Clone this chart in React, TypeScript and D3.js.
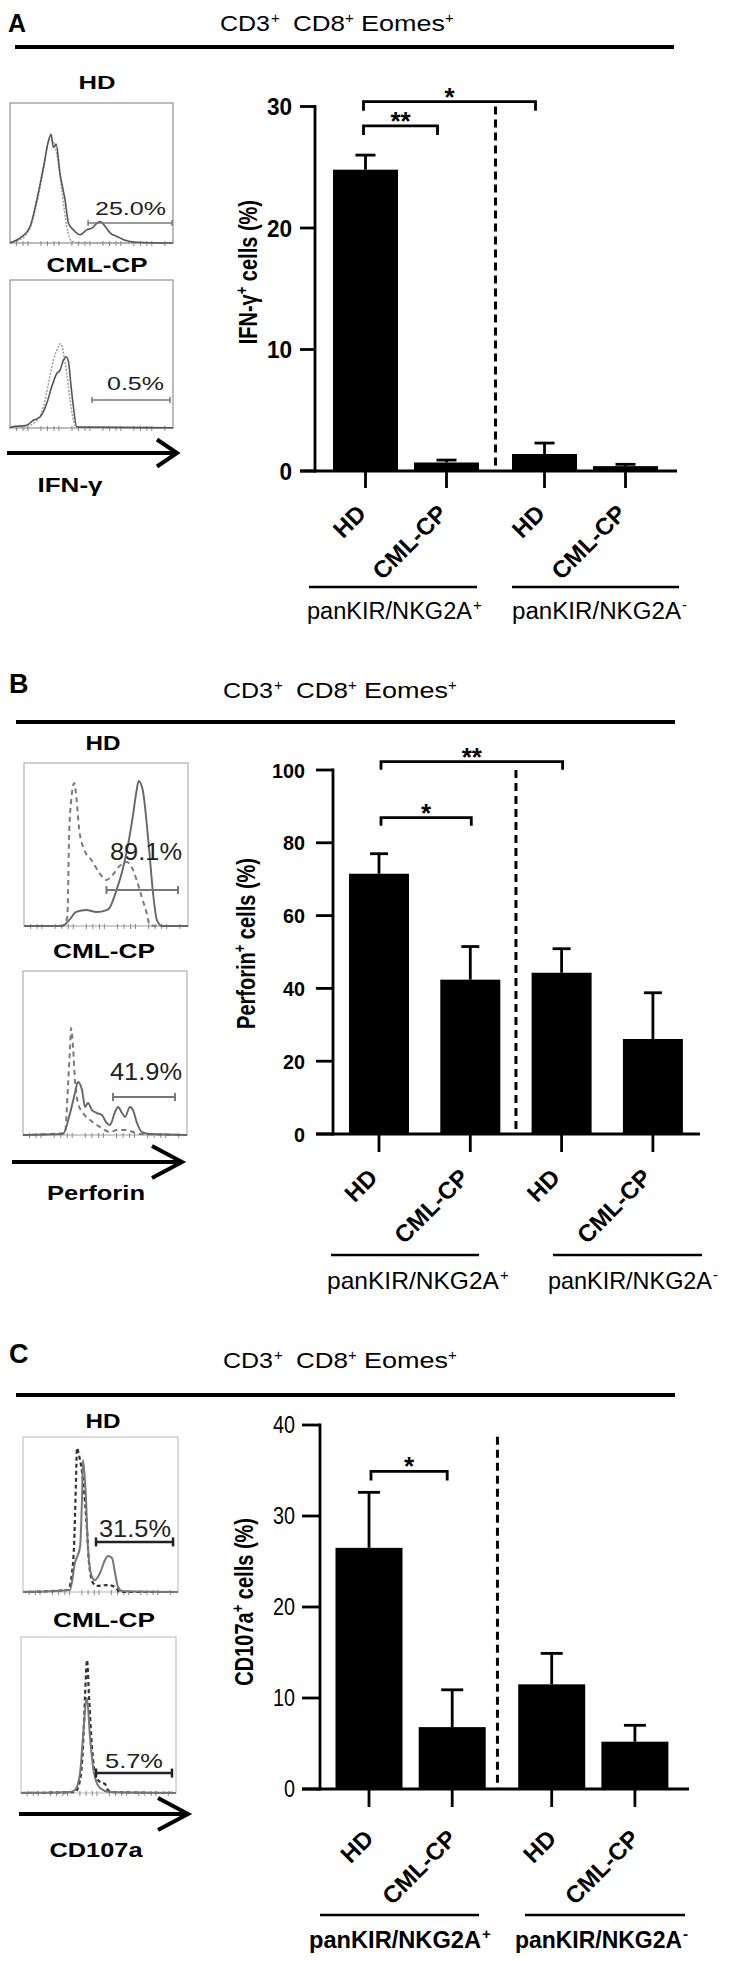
import React from "react";
import * as d3 from "d3";

const FONT = "'Liberation Sans', Arial, Helvetica, sans-serif";

// ================= DATA =================
const categories = ["HD", "CML-CP", "HD", "CML-CP"];
const groupNames = ["panKIR/NKG2A", "panKIR/NKG2A"];
const groupSigns = ["+", "-"];
const panelLetters = ["A", "B", "C"];
const titleWords = ["CD3", "CD8", "Eomes"];
const markers = ["IFN-γ", "Perforin", "CD107a"];
const sampleNames = ["HD", "CML-CP"];

const ifnMean = [24.8, 0.7, 1.4, 0.4];
const ifnSem = [1.2, 0.2, 0.9, 0.15];
const ifnTicks = [0, 10, 20, 30];
const ifnSig = [
  { a: 0, b: 1, y: 28.4, label: "**" },
  { a: 0, b: 2, y: 30.4, label: "*" },
];
const ifnPct = ["25.0%", "0.5%"];

const perfMean = [71.5, 42.4, 44.3, 26.1];
const perfSem = [5.5, 9.1, 6.6, 12.7];
const perfTicks = [0, 20, 40, 60, 80, 100];
const perfSig = [
  { a: 0, b: 1, y: 86.9, label: "*" },
  { a: 0, b: 2, y: 102.3, label: "**" },
];
const perfPct = ["89.1%", "41.9%"];

const cdMean = [26.5, 6.8, 11.5, 5.2];
const cdSem = [6.1, 4.1, 3.4, 1.8];
const cdTicks = [0, 10, 20, 30, 40];
const cdSig = [{ a: 0, b: 1, y: 34.9, label: "*" }];
const cdPct = ["31.5%", "5.7%"];

// Flow histograms: [fraction of box width, fraction of box height]
type P = [number, number];
const ifnHdSolid: P[] = [[0, 0], [0.01, 0.005], [0.061, 0.035], [0.123, 0.118], [0.164, 0.306], [0.205, 0.541], [0.236, 0.729], [0.252, 0.776], [0.266, 0.682], [0.283, 0.706], [0.307, 0.494], [0.338, 0.306], [0.359, 0.141], [0.389, 0.094], [0.43, 0.059], [0.471, 0.094], [0.502, 0.106], [0.533, 0.141], [0.553, 0.153], [0.584, 0.118], [0.615, 0.071], [0.656, 0.047], [0.697, 0.024], [0.758, 0.007], [0.861, 0.002], [1, 0]];
const ifnHdCtrl: P[] = [[0, 0], [0.01, 0.005], [0.061, 0.024], [0.123, 0.106], [0.164, 0.282], [0.205, 0.518], [0.242, 0.741], [0.262, 0.729], [0.287, 0.635], [0.318, 0.376], [0.348, 0.118], [0.379, 0.012], [0.43, 0], [1, 0]];
const ifnCmlSolid: P[] = [[0, 0], [0.01, 0.007], [0.102, 0.018], [0.143, 0.052], [0.184, 0.074], [0.225, 0.165], [0.256, 0.278], [0.287, 0.368], [0.307, 0.391], [0.328, 0.458], [0.344, 0.481], [0.359, 0.447], [0.373, 0.3], [0.389, 0.142], [0.41, 0.007], [1, 0.002]];
const ifnCmlCtrl: P[] = [[0, 0], [0.01, 0.007], [0.102, 0.011], [0.164, 0.052], [0.205, 0.142], [0.236, 0.3], [0.266, 0.458], [0.297, 0.549], [0.311, 0.571], [0.328, 0.503], [0.348, 0.368], [0.369, 0.187], [0.389, 0.052], [0.41, 0.007], [1, 0.002]];

const perfHdSolid: P[] = [[0, 0], [0.215, 0], [0.245, 0.006], [0.276, 0.037], [0.319, 0.086], [0.38, 0.098], [0.442, 0.086], [0.503, 0.098], [0.521, 0.11], [0.564, 0.221], [0.601, 0.344], [0.632, 0.485], [0.663, 0.669], [0.687, 0.834], [0.699, 0.89], [0.724, 0.834], [0.748, 0.632], [0.767, 0.423], [0.785, 0.221], [0.81, 0.037], [0.84, 0], [1, 0]];
const perfHdCtrl: P[] = [[0, 0], [0.233, 0], [0.264, 0.055], [0.276, 0.589], [0.288, 0.773], [0.307, 0.877], [0.319, 0.791], [0.337, 0.589], [0.368, 0.466], [0.411, 0.405], [0.46, 0.325], [0.503, 0.282], [0.54, 0.313], [0.583, 0.368], [0.626, 0.393], [0.656, 0.362], [0.687, 0.282], [0.718, 0.178], [0.748, 0.08], [0.767, 0.006], [0.8, 0], [1, 0]];
const perfCmlSolid: P[] = [[0, 0], [0.244, 0.006], [0.287, 0.134], [0.317, 0.256], [0.335, 0.323], [0.36, 0.274], [0.378, 0.171], [0.396, 0.195], [0.421, 0.152], [0.451, 0.134], [0.482, 0.122], [0.506, 0.079], [0.53, 0.061], [0.561, 0.14], [0.579, 0.171], [0.604, 0.134], [0.622, 0.11], [0.652, 0.171], [0.671, 0.152], [0.695, 0.073], [0.726, 0.018], [0.774, 0.006], [1, 0]];
const perfCmlCtrl: P[] = [[0, 0], [0.256, 0.012], [0.274, 0.293], [0.287, 0.537], [0.293, 0.652], [0.305, 0.537], [0.317, 0.335], [0.335, 0.195], [0.366, 0.134], [0.409, 0.091], [0.47, 0.049], [0.53, 0.018], [0.573, 0.03], [0.634, 0.03], [0.671, 0.018], [0.713, 0.006], [1, 0]];

const cdHdSolid: P[] = [[0, 0], [0.303, 0.013], [0.335, 0.187], [0.368, 0.29], [0.381, 0.613], [0.387, 0.852], [0.406, 0.613], [0.419, 0.29], [0.445, 0.097], [0.465, 0.077], [0.497, 0.123], [0.529, 0.206], [0.548, 0.232], [0.574, 0.219], [0.594, 0.123], [0.613, 0.032], [0.639, 0.006], [1, 0]];
const cdHdCtrl: P[] = [[0, 0], [0.29, 0.013], [0.316, 0.123], [0.329, 0.29], [0.342, 0.723], [0.348, 0.929], [0.361, 0.884], [0.387, 0.723], [0.413, 0.4], [0.426, 0.187], [0.452, 0.058], [0.477, 0.039], [0.542, 0.045], [0.594, 0.032], [0.626, 0], [1, 0]];
const cdCmlSolid: P[] = [[0, 0], [0.316, 0.006], [0.348, 0.019], [0.381, 0.128], [0.4, 0.359], [0.426, 0.609], [0.445, 0.359], [0.471, 0.128], [0.51, 0.032], [0.574, 0.006], [1, 0]];
const cdCmlCtrl: P[] = [[0, 0], [0.348, 0.006], [0.381, 0.083], [0.4, 0.295], [0.413, 0.615], [0.426, 0.853], [0.439, 0.615], [0.458, 0.295], [0.477, 0.128], [0.51, 0.071], [0.542, 0.058], [0.561, 0.019], [0.594, 0.006], [1, 0]];

const ifnGates = [{ x1: 0.479, x2: 0.994, y: 0.142 }, { x1: 0.503, x2: 0.982, y: 0.189 }];
const perfGates = [{ x1: 0.503, x2: 0.939, y: 0.221 }, { x1: 0.549, x2: 0.927, y: 0.232 }];
const cdGates = [{ x1: 0.471, x2: 0.968, y: 0.323 }, { x1: 0.484, x2: 0.974, y: 0.128 }];

const histTickFracs = [0.04, 0.08, 0.11, 0.19, 0.23, 0.27, 0.3, 0.38, 0.42, 0.46, 0.49, 0.57, 0.61, 0.65, 0.68, 0.76, 0.8, 0.84, 0.87, 0.95];

// ================= LAYOUT =================
const panels = [
  {
    letter: { x: 8, y: 32, size: 25 },
    title: { x: 220, y: 31 },
    rule: { x1: 15, x2: 674, y: 47 },
    boxes: [{ x: 10, y: 103, w: 163, h: 140 }, { x: 10, y: 280, w: 163, h: 148 }],
    sampleLbl: [{ cx: 97, y: 89, w: 37, size: 19 }, { cx: 97, y: 272, w: 101, size: 20 }],
    pctLbl: [{ x: 166, y: 215, w: 71, size: 18 }, { x: 164, y: 390, w: 57, size: 18 }],
    hs: { box: "#9a9a9a", solid: "#555", ctrl: "#9c9c9c", ctrlDash: "2,1.5", solidW: 1.6, ctrlW: 1.5, gate: "#777", gateW: 1.5, gateTick: 6 },
    arrow: { x1: 7, x2: 177, y: 453, hx: 20, hy: 13.5 },
    marker: { cx: 70, y: 492, w: 65, size: 20 },
    hist: [[ifnHdSolid, ifnHdCtrl], [ifnCmlSolid, ifnCmlCtrl]],
    gates: ifnGates, pct: ifnPct,
    mean: ifnMean, sem: ifnSem, ticks: ifnTicks, sig: ifnSig,
    chart: {
      axisX: 315, y0: 471, yTop: 106.5, max: 30, tickLen: 15, tickFont: 24, tickBold: true, tickScale: 0.94, tickGap: 8,
      c0: 365.5, unit: 81, gap: 0.21, barW: 65, xEnd: 677, xTickLen: 17, capW: 20, dashTop: 30, dashDx: 0,
      sigDx: [-2, -9], sigLeg: 9, lblDx: 2, lblDy: 44, lblSize: 24,
      groupLines: [[309, 477], [512, 679]], lineY: 587,
      groupLbl: [{ x: 307, w: 176 }, { x: 512, w: 180 }], groupY: 619, groupSize: 23, groupBold: false,
      yLabel: { x: 257, yEnd: 200, size: 20 },
    },
  },
  {
    letter: { x: 9, y: 693, size: 27 },
    title: { x: 223, y: 698 },
    rule: { x1: 16, x2: 675, y: 722 },
    boxes: [{ x: 24, y: 763, w: 164, h: 163 }, { x: 23, y: 971, w: 164, h: 164 }],
    sampleLbl: [{ cx: 103, y: 750, w: 35, size: 21 }, { cx: 104, y: 958, w: 102, size: 21 }],
    pctLbl: [{ x: 182, y: 860, w: 72, size: 24 }, { x: 182, y: 1080, w: 72, size: 24 }],
    hs: { box: "#b5b5b5", solid: "#666", ctrl: "#7a7a7a", ctrlDash: "5,4", solidW: 1.9, ctrlW: 2, gate: "#777", gateW: 2, gateTick: 8 },
    arrow: { x1: 12, x2: 182, y: 1162, hx: 30, hy: 16 },
    marker: { cx: 96, y: 1200, w: 98, size: 21 },
    hist: [[perfHdSolid, perfHdCtrl], [perfCmlSolid, perfCmlCtrl]],
    gates: perfGates, pct: perfPct,
    mean: perfMean, sem: perfSem, ticks: perfTicks, sig: perfSig,
    chart: {
      axisX: 333, y0: 1134, yTop: 770, max: 100, tickLen: 17, tickFont: 21, tickBold: true, tickScale: 0.94, tickGap: 11,
      c0: 379, unit: 91.3, gap: 0, barW: 60, xEnd: 700, xTickLen: 18, capW: 18, dashTop: 100, dashDx: 0,
      sigDx: [2, 1], sigLeg: 8, lblDx: 0, lblDy: 45, lblSize: 24,
      groupLines: [[331, 479], [553, 702]], lineY: 1255,
      groupLbl: [{ x: 327, w: 183 }, { x: 548, w: 175 }], groupY: 1289, groupSize: 24, groupBold: false,
      yLabel: { x: 255, yEnd: 858, size: 20 },
    },
  },
  {
    letter: { x: 9, y: 1363, size: 27 },
    title: { x: 223, y: 1368 },
    rule: { x1: 16, x2: 675, y: 1395 },
    boxes: [{ x: 23, y: 1437, w: 155, h: 155 }, { x: 21, y: 1637, w: 155, h: 156 }],
    sampleLbl: [{ cx: 103, y: 1428, w: 35, size: 21 }, { cx: 104, y: 1627, w: 102, size: 21 }],
    pctLbl: [{ x: 171, y: 1537, w: 72, size: 23 }, { x: 163, y: 1768, w: 58, size: 21 }],
    hs: { box: "#c8c8c8", solid: "#777", ctrl: "#333", ctrlDash: "4,3", solidW: 2, ctrlW: 2.2, gate: "#222", gateW: 2.5, gateTick: 9 },
    arrow: { x1: 19, x2: 188, y: 1814, hx: 30, hy: 16 },
    marker: { cx: 96, y: 1857, w: 93, size: 21 },
    hist: [[cdHdSolid, cdHdCtrl], [cdCmlSolid, cdCmlCtrl]],
    gates: cdGates, pct: cdPct,
    mean: cdMean, sem: cdSem, ticks: cdTicks, sig: cdSig,
    chart: {
      axisX: 320, y0: 1789, yTop: 1425, max: 40, tickLen: 18, tickFont: 23, tickBold: false, tickScale: 0.86, tickGap: 7,
      c0: 369, unit: 83.2, gap: 0.196, barW: 67, xEnd: 689, xTickLen: 18, capW: 22, dashTop: 38.7, dashDx: -4.5,
      sigDx: [2, -5], sigLeg: 9, lblDx: 6, lblDy: 51, lblSize: 24,
      groupLines: [[320, 479], [525, 685]], lineY: 1915,
      groupLbl: [{ x: 309, w: 183 }, { x: 515, w: 178 }], groupY: 1948, groupSize: 23, groupBold: true,
      yLabel: { x: 253, yEnd: 1518, size: 20 },
    },
  },
];

// ================= COMPONENTS =================
function Txt(props: any) {
  const { x, y, w, size, bold, anchor = "start", children, fill = "#000" } = props;
  return (
    <text x={x} y={y} fontSize={size} fontWeight={bold ? 700 : 400} textAnchor={anchor}
      textLength={w} lengthAdjust="spacingAndGlyphs" fill={fill} fontFamily={FONT}>
      {children}
    </text>
  );
}

function Title({ x, y }: { x: number; y: number }) {
  const offs = [0, 73, 141];
  const widths = [50, 52, 84];
  const supOffs = [51, 125, 225];
  return (
    <g>
      {titleWords.map((w, i) => (
        <Txt key={"w" + i} x={x + offs[i]} y={y} w={widths[i]} size={22}>{w}</Txt>
      ))}
      {supOffs.map((o, i) => (
        <text key={"s" + i} x={x + o} y={y - 8} fontSize={15} fontFamily={FONT}>+</text>
      ))}
    </g>
  );
}

function Histogram({ box, curves, gate, hs }: any) {
  const xs = d3.scaleLinear().domain([0, 1]).range([box.x, box.x + box.w]);
  const ys = d3.scaleLinear().domain([0, 1]).range([box.y + box.h, box.y]);
  const line = d3.line<P>().x((d) => xs(d[0])).y((d) => ys(d[1])).curve(d3.curveMonotoneX);
  const gy = ys(gate.y);
  return (
    <g>
      <rect x={box.x} y={box.y} width={box.w} height={box.h} fill="#fff" stroke={hs.box} strokeWidth={1.3} />
      {histTickFracs.map((f, i) => (
        <line key={i} x1={xs(f)} x2={xs(f)} y1={box.y + box.h - 2} y2={box.y + box.h + 3} stroke="#888" strokeWidth={1} />
      ))}
      <path d={line(curves[1]) || ""} fill="none" stroke={hs.ctrl} strokeWidth={hs.ctrlW} strokeDasharray={hs.ctrlDash} />
      <path d={line(curves[0]) || ""} fill="none" stroke={hs.solid} strokeWidth={hs.solidW} />
      <line x1={xs(gate.x1)} x2={xs(gate.x2)} y1={gy} y2={gy} stroke={hs.gate} strokeWidth={hs.gateW} />
      <line x1={xs(gate.x1)} x2={xs(gate.x1)} y1={gy - hs.gateTick / 2} y2={gy + hs.gateTick / 2} stroke={hs.gate} strokeWidth={hs.gateW} />
      <line x1={xs(gate.x2)} x2={xs(gate.x2)} y1={gy - hs.gateTick / 2} y2={gy + hs.gateTick / 2} stroke={hs.gate} strokeWidth={hs.gateW} />
    </g>
  );
}

function BarChart({ c, mean, sem, ticks, sig, marker }: any) {
  const y = d3.scaleLinear().domain([0, c.max]).range([c.y0, c.yTop]);
  const pos = d3.scaleLinear().domain([0, 1]).range([c.c0, c.c0 + c.unit]);
  const cx = (i: number) => pos(i + (i >= 2 ? c.gap : 0));
  const SW = 2.8;
  const dashX = (cx(1) + cx(2)) / 2 + c.dashDx;
  return (
    <g>
      {mean.map((m: number, i: number) => (
        <g key={"b" + i}>
          <rect x={cx(i) - c.barW / 2} y={y(m)} width={c.barW} height={c.y0 - y(m)} fill="#000" />
          <line x1={cx(i)} x2={cx(i)} y1={y(m)} y2={y(m + sem[i])} stroke="#000" strokeWidth={SW} />
          <line x1={cx(i) - c.capW / 2} x2={cx(i) + c.capW / 2} y1={y(m + sem[i])} y2={y(m + sem[i])} stroke="#000" strokeWidth={SW} />
        </g>
      ))}
      <line x1={dashX} x2={dashX} y1={y(c.dashTop)} y2={c.y0} stroke="#000" strokeWidth={3} strokeDasharray="8,5" />
      <line x1={c.axisX} x2={c.axisX} y1={c.y0 + SW / 2} y2={y(c.max) - SW / 2} stroke="#000" strokeWidth={SW} />
      {ticks.map((t: number) => (
        <g key={"t" + t}>
          <line x1={c.axisX - c.tickLen} x2={c.axisX} y1={y(t)} y2={y(t)} stroke="#000" strokeWidth={SW} />
          <text transform={`translate(${c.axisX - c.tickLen - c.tickGap},${y(t) + c.tickFont * 0.36}) scale(${c.tickScale},1)`}
            textAnchor="end" fontSize={c.tickFont} fontWeight={c.tickBold ? 700 : 400} fontFamily={FONT}>{t}</text>
        </g>
      ))}
      <line x1={c.axisX - c.tickLen} x2={c.xEnd} y1={c.y0} y2={c.y0} stroke="#000" strokeWidth={SW} />
      {categories.map((cat, i) => (
        <g key={"x" + i}>
          <line x1={cx(i)} x2={cx(i)} y1={c.y0} y2={c.y0 + c.xTickLen} stroke="#000" strokeWidth={SW} />
          <text transform={`translate(${cx(i) + c.lblDx},${c.y0 + c.lblDy}) rotate(-45)`} textAnchor="end"
            fontSize={c.lblSize} fontWeight={700} fontFamily={FONT}>{cat}</text>
        </g>
      ))}
      {sig.map((s: any, i: number) => {
        const x1 = cx(s.a) + c.sigDx[0];
        const x2 = cx(s.b) + c.sigDx[1];
        const yy = y(s.y);
        return (
          <g key={"s" + i}>
            <path d={`M${x1},${yy + c.sigLeg}V${yy}H${x2}V${yy + c.sigLeg}`} fill="none" stroke="#000" strokeWidth={SW} />
            <text x={(x1 + x2) / 2} y={yy + 4} textAnchor="middle" fontSize={26} fontWeight={700} fontFamily={FONT}>{s.label}</text>
          </g>
        );
      })}
      {c.groupLines.map((gl: number[], i: number) => (
        <g key={"g" + i}>
          <line x1={gl[0]} x2={gl[1]} y1={c.lineY} y2={c.lineY} stroke="#000" strokeWidth={2.6} />
          <Txt x={c.groupLbl[i].x} y={c.groupY} w={c.groupLbl[i].w - 11} size={c.groupSize} bold={c.groupBold}>{groupNames[i]}</Txt>
          <text x={c.groupLbl[i].x + c.groupLbl[i].w - 10} y={c.groupY - 9} fontSize={15} fontWeight={c.groupBold ? 700 : 400} fontFamily={FONT}>{groupSigns[i]}</text>
        </g>
      ))}
      <text transform={`translate(${c.yLabel.x},${c.yLabel.yEnd}) scale(1.3,1) rotate(-90)`} textAnchor="end"
        fontSize={c.yLabel.size} fontWeight={700} fontFamily={FONT}>
        <tspan>{marker}</tspan>
        <tspan dy={-8} fontSize={13}>+</tspan>
        <tspan dy={8}> cells (%)</tspan>
      </text>
    </g>
  );
}

function Panel({ p, idx }: any) {
  return (
    <g>
      <text x={p.letter.x} y={p.letter.y} fontSize={p.letter.size} fontWeight={700} fontFamily={FONT}>{panelLetters[idx]}</text>
      <Title x={p.title.x} y={p.title.y} />
      <line x1={p.rule.x1} x2={p.rule.x2} y1={p.rule.y} y2={p.rule.y} stroke="#000" strokeWidth={4.2} />
      {p.boxes.map((b: any, i: number) => (
        <g key={i}>
          <Txt x={p.sampleLbl[i].cx} y={p.sampleLbl[i].y} w={p.sampleLbl[i].w} size={p.sampleLbl[i].size} bold anchor="middle">{sampleNames[i]}</Txt>
          <Histogram box={b} curves={p.hist[i]} gate={p.gates[i]} hs={p.hs} />
          <Txt x={p.pctLbl[i].x} y={p.pctLbl[i].y} w={p.pctLbl[i].w} size={p.pctLbl[i].size} anchor="end" fill="#222">{p.pct[i]}</Txt>
        </g>
      ))}
      <line x1={p.arrow.x1} x2={p.arrow.x2 - 2} y1={p.arrow.y} y2={p.arrow.y} stroke="#000" strokeWidth={4} />
      <polyline points={`${p.arrow.x2 - p.arrow.hx},${p.arrow.y - p.arrow.hy} ${p.arrow.x2},${p.arrow.y} ${p.arrow.x2 - p.arrow.hx},${p.arrow.y + p.arrow.hy}`}
        fill="none" stroke="#000" strokeWidth={4} />
      <Txt x={p.marker.cx} y={p.marker.y} w={p.marker.w} size={p.marker.size} bold anchor="middle">{markers[idx]}</Txt>
      <BarChart c={p.chart} mean={p.mean} sem={p.sem} ticks={p.ticks} sig={p.sig} marker={markers[idx]} />
    </g>
  );
}

export default function App() {
  return (
    <svg width={735} height={1961} viewBox="0 0 735 1961"
      style={{ position: "absolute", left: 0, top: 0, background: "#fff" }}>
      <rect width={735} height={1961} fill="#fff" />
      {panels.map((p, i) => <Panel key={i} p={p} idx={i} />)}
    </svg>
  );
}
